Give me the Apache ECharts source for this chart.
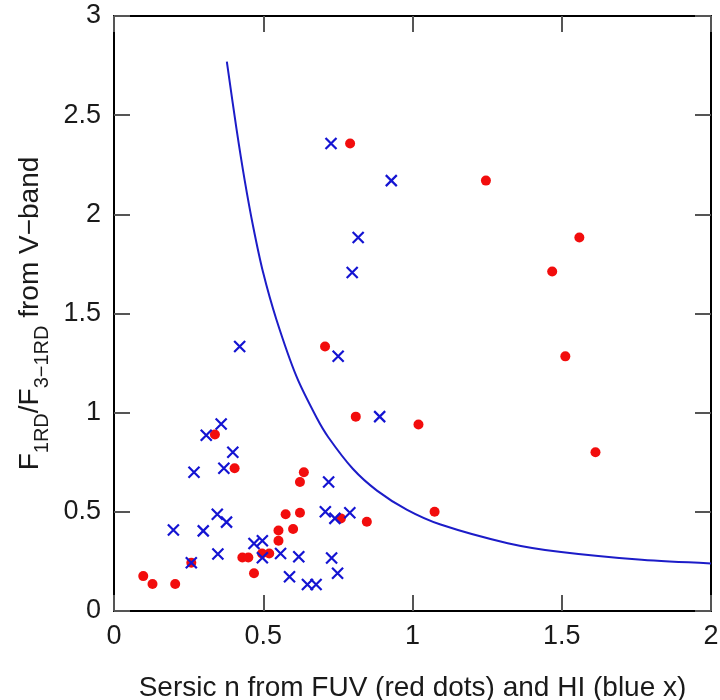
<!DOCTYPE html>
<html>
<head>
<meta charset="utf-8">
<script src="https://cdn.jsdelivr.net/npm/echarts@6/dist/echarts.min.js"></script>
<style>
  html, body { margin: 0; padding: 0; background: #fff; }
  #chart { width: 720px; height: 700px; }
</style>
</head>
<body>
<div id="chart"></div>
<script>
// FUV sersic n (red dots)
const fuvN = [0.098, 0.129, 0.205, 0.259, 0.338, 0.404, 0.43, 0.45, 0.469, 0.496, 0.52, 0.551, 0.551, 0.575, 0.60, 0.623, 0.623, 0.636, 0.707, 0.76, 0.791, 0.81, 0.847, 1.02, 1.074, 1.246, 1.468, 1.512, 1.559, 1.613];
const fuvRatio = [0.176, 0.136, 0.136, 0.243, 0.89, 0.72, 0.27, 0.27, 0.19, 0.29, 0.29, 0.354, 0.406, 0.488, 0.413, 0.495, 0.65, 0.70, 1.334, 0.467, 2.357, 0.98, 0.45, 0.94, 0.50, 2.17, 1.712, 1.284, 1.883, 0.80];

// HI sersic n (blue x)
const hiN = [0.199, 0.259, 0.268, 0.299, 0.309, 0.346, 0.348, 0.359, 0.368, 0.377, 0.398, 0.421, 0.469, 0.497, 0.497, 0.558, 0.588, 0.619, 0.648, 0.677, 0.708, 0.719, 0.727, 0.729, 0.74, 0.749, 0.751, 0.79, 0.798, 0.818, 0.89, 0.929];
const hiRatio = [0.408, 0.243, 0.70, 0.404, 0.886, 0.488, 0.287, 0.943, 0.72, 0.448, 0.80, 1.334, 0.34, 0.354, 0.268, 0.29, 0.173, 0.274, 0.134, 0.134, 0.50, 0.65, 2.357, 0.267, 0.467, 0.19, 1.284, 0.495, 1.707, 1.883, 0.98, 2.17];

// model curve
const curveN = [0.378, 0.41, 0.438, 0.466, 0.499, 0.544, 0.612, 0.679, 0.718, 0.80, 0.881, 0.982, 1.094, 1.319, 1.498, 1.768, 2.0];
const curveRatio = [2.77, 2.435, 2.17, 1.94, 1.71, 1.47, 1.18, 0.974, 0.876, 0.717, 0.607, 0.510, 0.436, 0.342, 0.297, 0.258, 0.240];

const xTicks = [0, 0.5, 1, 1.5, 2];
const yTicks = [0, 0.5, 1, 1.5, 2, 2.5, 3];

const zip = (a, b) => a.map((v, i) => [v, b[i]]);

const font = "Liberation Sans";
const textColor = "#1a1a1a";
const frameLine = { show: true, onZero: false, lineStyle: { color: "#000", width: 2 } };
const innerTick = { show: true, inside: true, length: 16, lineStyle: { color: "#555", width: 2 } };

const chart = echarts.init(document.getElementById("chart"), null, { renderer: "canvas" });

const option = {
  animation: false,
  backgroundColor: "#fff",
  grid: { left: 114, right: 9, top: 16, bottom: 89, outerBoundsMode: "none", containLabel: false },
  xAxis: [
    {
      type: "value",
      position: "bottom",
      min: xTicks[0],
      max: xTicks[xTicks.length - 1],
      interval: 0.5,
      axisLine: frameLine,
      axisTick: innerTick,
      splitLine: { show: false },
      axisLabel: { color: textColor, fontSize: 27, fontFamily: font, margin: 12 },
      name: "Sersic n from FUV (red dots) and HI (blue x)",
      nameLocation: "middle",
      nameGap: 63,
      nameTextStyle: { color: textColor, fontSize: 28, fontFamily: font },
    },
    {
      type: "value",
      position: "top",
      min: xTicks[0],
      max: xTicks[xTicks.length - 1],
      interval: 0.5,
      axisLine: frameLine,
      axisTick: innerTick,
      splitLine: { show: false },
      axisLabel: { show: false },
    },
  ],
  yAxis: [
    {
      type: "value",
      position: "left",
      min: yTicks[0],
      max: yTicks[yTicks.length - 1],
      interval: 0.5,
      axisLine: frameLine,
      axisTick: innerTick,
      splitLine: { show: false },
      axisLabel: { color: textColor, fontSize: 27, fontFamily: font, margin: 13 },
      name: "{a|F}{s|1RD}{a|/F}{s|3\u22121RD}{a| from V\u2212band}",
      nameLocation: "middle",
      nameGap: 66,
      nameTextStyle: {
        color: textColor,
        fontFamily: font,
        fontSize: 28,
        rich: {
          a: { fontSize: 28, fontFamily: font, color: textColor, lineHeight: 34, verticalAlign: "bottom" },
          s: { fontSize: 20, fontFamily: font, color: textColor, lineHeight: 34, verticalAlign: "bottom", padding: [0, 0, -8, 0] },
        },
      },
    },
    {
      type: "value",
      position: "right",
      min: yTicks[0],
      max: yTicks[yTicks.length - 1],
      interval: 0.5,
      axisLine: frameLine,
      axisTick: innerTick,
      splitLine: { show: false },
      axisLabel: { show: false },
    },
  ],
  series: [
    {
      name: "model",
      type: "line",
      data: zip(curveN, curveRatio),
      smooth: 0.3,
      showSymbol: false,
      lineStyle: { color: "#1c1cc8", width: 2 },
      z: 1,
    },
    {
      name: "FUV",
      type: "scatter",
      data: zip(fuvN, fuvRatio),
      symbol: "circle",
      symbolSize: 10,
      itemStyle: { color: "#f20d0d", opacity: 1 },
      z: 2,
    },
    {
      name: "HI",
      type: "scatter",
      data: zip(hiN, hiRatio),
      symbol: "path://M0,0L10,10M10,0L0,10",
      symbolSize: 11,
      itemStyle: { color: "transparent", borderColor: "#1414d2", borderWidth: 2.2, opacity: 1 },
      z: 3,
    },
  ],
};

chart.setOption(option);
</script>
</body>
</html>
